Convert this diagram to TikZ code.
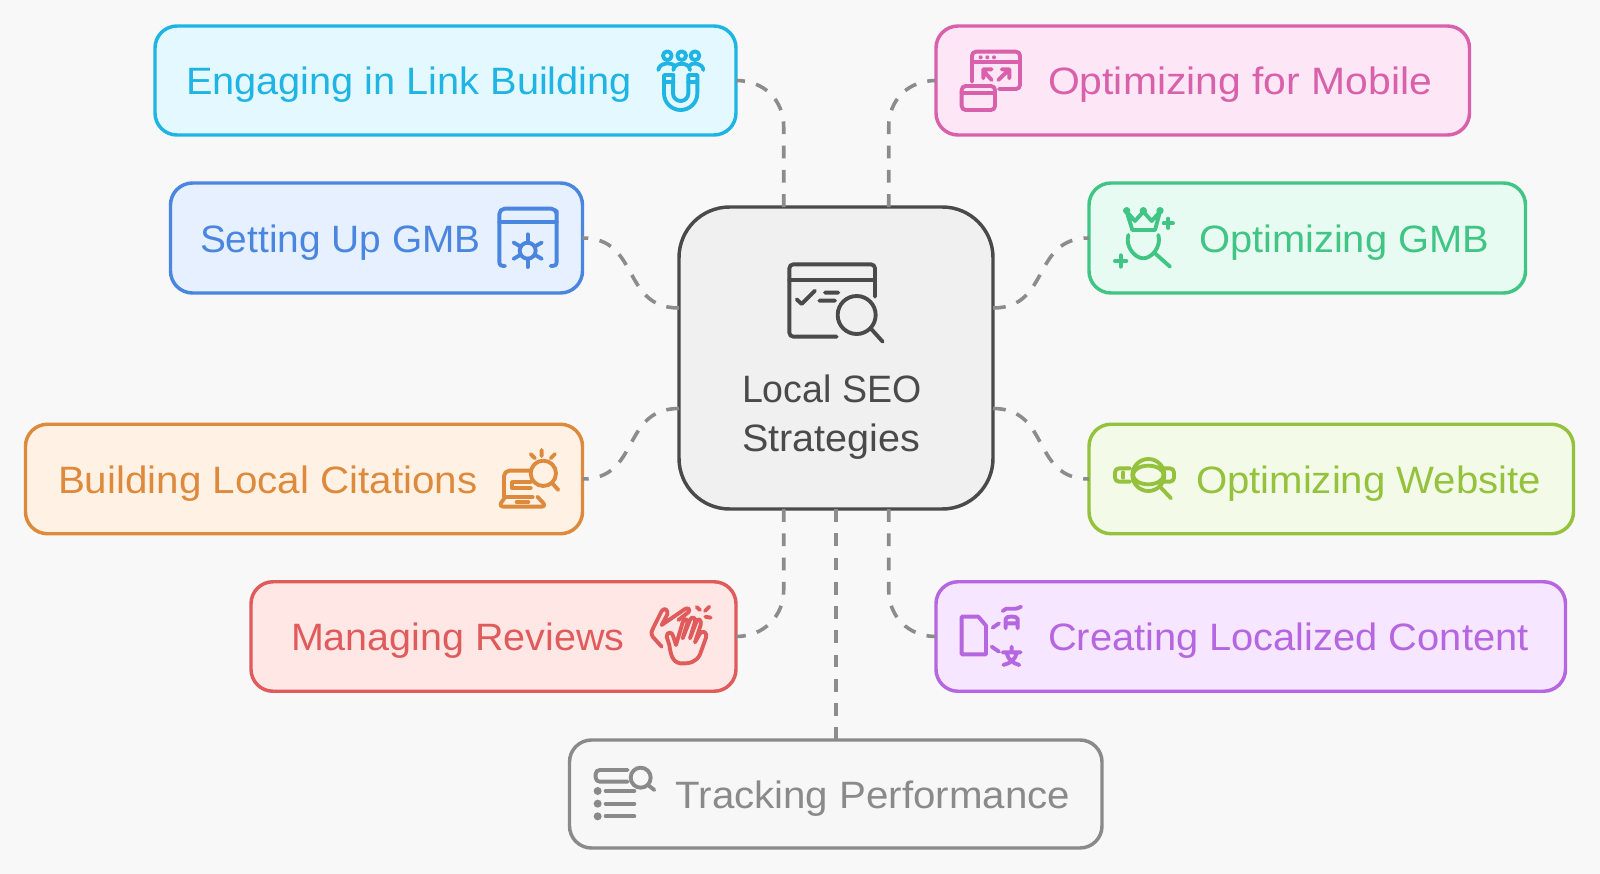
\documentclass[tikz,border=0pt]{standalone}
\usepackage{graphicx}
\usepackage{fontspec}
\setmainfont{Liberation Sans}
\definecolor{bgc}{HTML}{F8F8F8}
\definecolor{cEng}{HTML}{1EB4E4}\definecolor{fEng}{HTML}{E4F8FF}
\definecolor{cSet}{HTML}{4A86E0}\definecolor{fSet}{HTML}{E6F0FF}
\definecolor{cBui}{HTML}{DE8A3C}\definecolor{fBui}{HTML}{FFF2E5}
\definecolor{cMan}{HTML}{E05B5B}\definecolor{fMan}{HTML}{FFE7E6}
\definecolor{cTra}{HTML}{8A8A8A}\definecolor{fTra}{HTML}{F7F7F7}
\definecolor{cMob}{HTML}{D960AB}\definecolor{fMob}{HTML}{FDE6F5}
\definecolor{cGmb}{HTML}{40C585}\definecolor{fGmb}{HTML}{E8FBF2}
\definecolor{cWeb}{HTML}{95C23D}\definecolor{fWeb}{HTML}{F3FBE8}
\definecolor{cLoc}{HTML}{B566E0}\definecolor{fLoc}{HTML}{F6E6FF}
\definecolor{cCtr}{HTML}{4A4A4A}\definecolor{fCtr}{HTML}{F0F0F0}
\definecolor{cCon}{HTML}{8C8C8C}
\newdimen\pxu \pxu=0.75pt
\newcommand\fitw[2]{\resizebox{#1\pxu}{\height}{#2}}
\tikzset{
  x=0.75pt,y=-0.75pt,
  boxs/.style 2 args={draw=#1,fill=#2,rectangle,rounded corners=16.5pt,line width=2.6pt,inner sep=0pt,outer sep=0pt},
  lbl/.style={anchor=base west,inner sep=0pt,outer sep=0pt,font=\fontsize{28.6pt}{34pt}\selectfont,text=#1},
  conn/.style={draw=cCon,line width=2.7pt,dash pattern=on 9.6pt off 8.6pt},
  icon/.style={draw=#1,line width=2.9pt,line cap=round,line join=round},
}
\newcommand\ics[3]{\begin{scope}[shift={(#1,#2)},x=0.25pt,y=-0.25pt,icon=#3]}
\begin{document}
\begin{tikzpicture}
\useasboundingbox[fill=bgc] (0,0) rectangle (1600,874);
% boxes
\node[boxs={cCtr}{fCtr},rounded corners=38pt,minimum width=314*0.75pt,minimum height=302*0.75pt] (ctr) at (836,358) {};
\node[boxs={cEng}{fEng},minimum width=581*0.75pt,minimum height=109*0.75pt] (eng) at (445.5,80.5) {};
\node[boxs={cMob}{fMob},minimum width=533.5*0.75pt,minimum height=109*0.75pt] (mob) at (1202.75,80.5) {};
\node[boxs={cSet}{fSet},minimum width=412*0.75pt,minimum height=110*0.75pt] (set) at (376.5,238) {};
\node[boxs={cGmb}{fGmb},minimum width=436.5*0.75pt,minimum height=110*0.75pt] (gmb) at (1307.25,238) {};
\node[boxs={cBui}{fBui},minimum width=557*0.75pt,minimum height=109.5*0.75pt] (bui) at (304,479) {};
\node[boxs={cWeb}{fWeb},minimum width=484.5*0.75pt,minimum height=109.5*0.75pt] (web) at (1331.25,479) {};
\node[boxs={cMan}{fMan},minimum width=485*0.75pt,minimum height=109.5*0.75pt] (man) at (493.5,636.5) {};
\node[boxs={cLoc}{fLoc},minimum width=629.5*0.75pt,minimum height=109.5*0.75pt] (loc) at (1250.75,636.5) {};
\node[boxs={cTra}{fTra},minimum width=532.5*0.75pt,minimum height=108*0.75pt] (tra) at (835.75,794) {};
% connector ends
\coordinate (ctrTL) at (783.7,207);
\coordinate (ctrTR) at (888.7,207);
\coordinate (ctrBL) at (783.7,509);
\coordinate (ctrBR) at (888.7,509);
\coordinate (ctrLU) at (679,308);
\coordinate (ctrLD) at (679,408.5);
\coordinate (ctrRU) at (993,308);
\coordinate (ctrRD) at (993,408.5);
% connectors
\draw[conn] (ctrTL) -- (783.7,127) .. controls (783.7,100) and +(28,0) .. (eng.east);
\draw[conn] (ctrTR) -- (888.7,127) .. controls (888.7,100) and +(-28,0) .. (mob.west);
\draw[conn] (ctrLU) .. controls +(-58,0) and +(58,0) .. (set.east);
\draw[conn] (ctrRU) .. controls +(58,0) and +(-58,0) .. (gmb.west);
\draw[conn] (ctrLD) .. controls +(-58,0) and +(58,0) .. (bui.east);
\draw[conn] (ctrRD) .. controls +(58,0) and +(-58,0) .. (web.west);
\draw[conn] (ctrBL) -- (783.7,590) .. controls (783.7,616) and +(28,0) .. (man.east);
\draw[conn] (ctrBR) -- (888.7,590) .. controls (888.7,616) and +(-28,0) .. (loc.west);
\draw[conn] (tra.north |- ctr.south) -- (tra.north);
% labels
\node[lbl=cEng] (tEng) at (186,94.5) {\fitw{446}{Engaging in Link Building}};
\node[lbl=cMob] (tMob) at (1048,94.5) {\fitw{384}{Optimizing for Mobile}};
\node[lbl=cSet] (tSet) at (200,252) {\fitw{280.6}{Setting Up GMB}};
\node[lbl=cGmb] (tGmb) at (1199,252) {\fitw{290}{Optimizing GMB}};
\node[lbl=cBui] (tBui) at (58,493) {\fitw{419.5}{Building Local Citations}};
\node[lbl=cWeb] (tWeb) at (1196,493) {\fitw{345}{Optimizing Website}};
\node[lbl=cMan] (tMan) at (291,650.5) {\fitw{333.5}{Managing Reviews}};
\node[lbl=cLoc] (tLoc) at (1048,650.5) {\fitw{480.6}{Creating Localized Content}};
\node[lbl=cTra] (tTra) at (675.5,808) {\fitw{394.5}{Tracking Performance}};
\node[lbl=cCtr] (tCt1) at (742,402) {\fitw{179.5}{Local SEO}};
\node[lbl=cCtr] (tCt2) at (742,451) {\fitw{178}{Strategies}};
% icon: centre
\ics{620}{20}{cCtr}
\draw (765,830) -- (765,745) [rounded corners=3pt] -- (765,733) -- (508,733) -- (508,950) [sharp corners] -- (650,950);
\draw (508,780) -- (765,780);
\draw (530,838) -- (545,852) -- (585,812) (615,818) -- (655,818) (598,842) -- (645,842);
\draw (710,885) circle (57) (752,925) -- (788,965);
\end{scope}
% icon: engaging
\ics{640}{40}{cEng}
\draw (82,47) circle (13) (125,47) circle (13) (165,47) circle (13);
\draw (55,90) .. controls (57,68) and (95,65) .. (103,78);
\draw (100,90) .. controls (102,65) and (148,65) .. (150,90);
\draw (147,78) .. controls (155,65) and (188,68) .. (190,90);
\draw (72,105) -- (72,160) arc[start angle=180,end angle=0,radius=50] -- (172,105) -- (145,105) -- (145,160) arc[start angle=0,end angle=180,radius=23] -- (100,105) -- cycle;
\draw (72,125) -- (100,125) (145,125) -- (172,125);
\end{scope}
% icon: mobile
\ics{950}{40}{cMob}
\draw[rounded corners=3pt] (66,125) -- (66,35) -- (210,35) -- (210,147) -- (147,147);
\draw (66,65) -- (210,65);
\fill[cMob] (92,52) circle (6) (112,52) circle (6) (132,52) circle (6);
\draw (125,120) -- (100,92) (100,115) -- (100,88) -- (125,88);
\draw (145,120) -- (178,88) (155,88) -- (178,88) -- (178,115);
\draw[rounded corners=3pt] (35,138) rectangle (135,210);
\draw (35,160) -- (135,160);
\end{scope}
% icon: setting up
\ics{480}{190}{cSet}
\draw (75,228) .. controls (62,228) and (58,225) .. (58,215) -- (58,78) [rounded corners=4pt] -- (58,56) -- (230,56) -- (230,78) [sharp corners] -- (230,215) .. controls (230,225) and (226,228) .. (212,228);
\draw (58,96) -- (230,96);
\draw (143,182) circle (24);
\foreach \a in {30,90,...,330}{\draw (143,182) ++(\a:24) -- ++(\a:25);}
\end{scope}
% icon: gmb
\ics{1100}{195}{cGmb}
\fill[cGmb] (80,47) circle (11) (130,47) circle (11) (180,47) circle (11);
\draw (80,50) -- (97,105) -- (165,105) -- (180,50) -- (155,78) -- (130,50) -- (105,78) -- cycle;
\draw (85,120) .. controls (75,155) and (105,190) .. (130,190) .. controls (155,190) and (185,155) .. (175,120);
\draw (165,175) -- (210,215);
\draw (191,85) -- (219,85) (205,71) -- (205,99);
\draw (45,198) -- (79,198) (62,181) -- (62,215);
\end{scope}
% icon: building
\ics{490}{440}{cBui}
\draw (155,30) -- (155,48) (122,42) -- (135,55) (195,42) -- (182,55);
\draw (160,100) circle (38) (187,130) -- (205,150);
\draw[rounded corners=4pt] (118,92) -- (42,92) -- (42,170);
\draw (128,172) -- (45,172);
\draw[rounded corners=4pt] (45,172) -- (25,200) -- (170,200) -- (142,170);
\draw (80,186) -- (115,186);
\draw (122,126) -- (66,126) -- (66,144) -- (122,144);
\end{scope}
% icon: website
\ics{1100}{440}{cWeb}
\draw[rounded corners=3pt] (90,85) -- (45,85) -- (45,125) -- (90,125);
\draw (70,97) -- (70,113);
\draw[rounded corners=3pt] (190,85) -- (222,85) -- (222,125) -- (190,125);
\draw (145,105) circle (48) (145,105) ellipse (46 and 28);
\draw (180,140) -- (213,175);
\end{scope}
% icon: managing
\ics{640}{595}{cMan}
\draw (65,155) -- (38,125) .. controls (32,115) and (35,105) .. (40,98) -- (65,48) .. controls (72,38) and (85,42) .. (82,58) -- (65,90) -- (135,42) .. controls (145,36) and (152,45) .. (145,52) -- (115,75);
\draw (120,205) .. controls (95,200) and (92,175) .. (88,150) -- (80,125) .. controls (80,108) and (98,110) .. (100,125) -- (108,150) -- (128,82) .. controls (132,68) and (145,70) .. (142,85) -- (128,130) -- (150,75) .. controls (155,62) and (168,68) .. (165,80) -- (150,130) -- (170,78) .. controls (175,68) and (186,75) .. (182,90) -- (165,142) -- (180,115) .. controls (190,105) and (202,112) .. (198,128) -- (180,178) .. controls (170,200) and (150,207) .. (120,205) -- cycle;
\draw (170,36) -- (180,45) (195,48) -- (208,35) (196,65) -- (212,68);
\end{scope}
% icon: creating
\ics{950}{595}{cLoc}
\draw (35,65) -- (85,65) -- (108,92) -- (108,178) -- (35,178) -- cycle;
\draw (128,98) -- (147,85) (125,155) -- (147,170);
\draw (158,48) .. controls (170,32) and (190,50) .. (213,35);
\draw (167,100) -- (167,72) .. controls (167,62) and (203,62) .. (203,72) -- (203,100) (167,85) -- (203,85);
\draw (185,155) -- (185,172) (158,172) -- (212,172) (170,175) .. controls (175,195) and (190,205) .. (208,210) (200,175) .. controls (195,195) and (180,205) .. (160,210);
\end{scope}
% icon: tracking
\ics{585}{755}{cTra}
\draw[rounded corners=3pt] (128,45) -- (32,45) -- (32,80) -- (128,80);
\draw (167,68) circle (30) (189,90) -- (208,105);
\fill[cTra] (38,108) circle (12) (38,146) circle (12) (38,184) circle (12);
\draw (62,108) -- (148,108) (62,146) -- (148,146) (62,184) -- (148,184);
\end{scope}
\end{tikzpicture}
\end{document}
